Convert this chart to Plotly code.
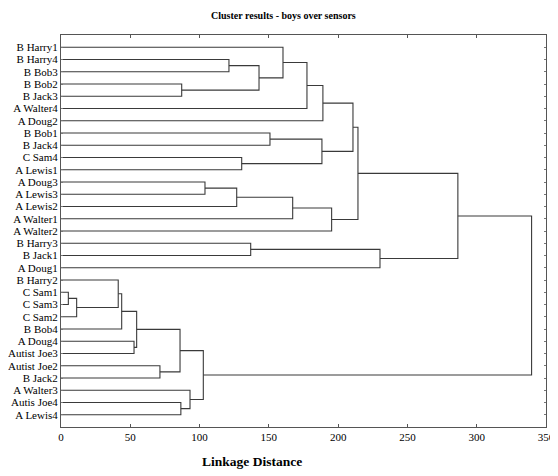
import plotly.graph_objects as go

# Leaf labels (top to bottom)
leaf_labels = [
    "B Harry1", "B Harry4", "B Bob3", "B Bob2", "B Jack3", "A Walter4", "A Doug2",
    "B Bob1", "B Jack4", "C Sam4", "A Lewis1", "A Doug3", "A Lewis3", "A Lewis2",
    "A Walter1", "A Walter2", "B Harry3", "B Jack1", "A Doug1", "B Harry2",
    "C Sam1", "C Sam3", "C Sam2", "B Bob4", "A Doug4", "Autist Joe3", "Autist Joe2",
    "B Jack2", "A Walter3", "Autis Joe4", "A Lewis4",
]

# Merges: node ids 0..30 are leaves, merge k creates node 31+k
merge_left = [20, 31, 19, 33, 24, 34, 26, 36, 29, 28, 38, 3, 11, 1, 43, 9, 16,
              44, 7, 0, 45, 50, 49, 52, 51, 54, 56, 47, 57, 59]
merge_right = [21, 22, 32, 23, 25, 35, 27, 37, 30, 39, 40, 4, 12, 2, 13, 10, 17,
               42, 8, 48, 14, 5, 46, 6, 15, 53, 55, 18, 58, 41]
merge_height = [5.3, 11.3, 41.3, 43.8, 52.7, 54.6, 71.4, 85.9, 86.5, 93.1, 102.7,
                87.1, 103.9, 121.2, 126.8, 130.4, 136.9, 142.9, 150.8, 160.2,
                167.2, 177.5, 188.3, 189.0, 195.3, 210.7, 214.3, 230.2, 286.4, 339.6]

x_ticks = [0, 50, 100, 150, 200, 250, 300, 350]

n = len(leaf_labels)
node_y = {i: i + 1 for i in range(n)}
node_h = {i: 0.0 for i in range(n)}

xs, ys = [], []
for k, (a, b, h) in enumerate(zip(merge_left, merge_right, merge_height)):
    ya, yb = node_y[a], node_y[b]
    xs += [node_h[a], h, h, node_h[b], None]
    ys += [ya, ya, yb, yb, None]
    node_y[n + k] = (ya + yb) / 2
    node_h[n + k] = h

serif = "Liberation Serif, Times New Roman, serif"

fig = go.Figure()
fig.add_trace(go.Scatter(x=xs, y=ys, mode="lines",
                         line=dict(color="#3a3a3a", width=1.1),
                         hoverinfo="skip", showlegend=False))

# page has an 8px body margin, so the figure is 8px smaller than the window
fig.update_layout(
    width=550, height=468,
    margin=dict(l=53, r=12, t=27, b=49, autoexpand=False),
    paper_bgcolor="white", plot_bgcolor="white",
    font=dict(family=serif, color="black", size=11),
    annotations=[
        dict(text="<b>Cluster results - boys over sensors</b>", xref="paper", yref="paper",
             x=(283 - 61) / 485, y=1 + (35 - 15) / 392, xanchor="center", yanchor="middle",
             showarrow=False, font=dict(family=serif, size=10, color="black")),
        dict(text="<b>Linkage Distance</b>", xref="paper", yref="paper",
             x=(252 - 61) / 485, y=-(462 - 427) / 392,
             xanchor="center", yanchor="middle", showarrow=False,
             font=dict(family=serif, size=13.5, color="black")),
    ],
)
fig.update_xaxes(range=[0, 350], tickvals=x_ticks, ticktext=[str(v) for v in x_ticks],
                 showgrid=False, zeroline=False, showline=True, linecolor="#555",
                 linewidth=1, mirror="ticks", ticks="inside", ticklen=3,
                 tickcolor="#555", tickfont=dict(family=serif, size=11),
                 automargin=False)
fig.update_yaxes(range=[32, 0], tickvals=list(range(1, n + 1)), ticktext=leaf_labels,
                 showgrid=False, zeroline=False, showline=True, linecolor="#555",
                 linewidth=1, mirror="ticks", ticks="inside", ticklen=2,
                 tickcolor="#777", tickfont=dict(family=serif, size=11),
                 automargin=False)

fig.write_html("out.html")
